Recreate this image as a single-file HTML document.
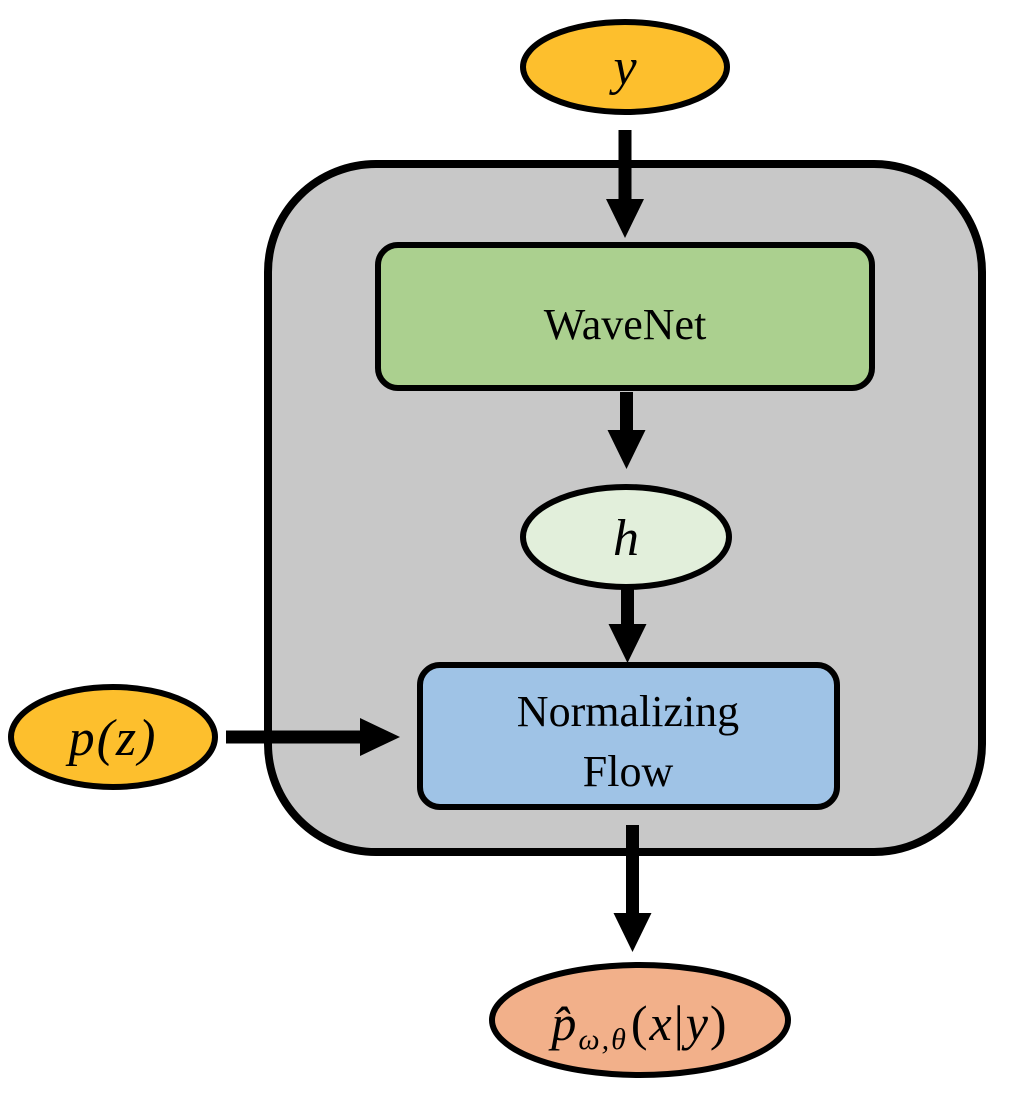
<!DOCTYPE html>
<html><head><meta charset="utf-8"><style>
html,body{margin:0;padding:0;background:#fff}
svg text{font-family:"Liberation Serif",serif}
</style></head><body>
<svg width="1016" height="1096" viewBox="0 0 1016 1096" xmlns="http://www.w3.org/2000/svg">
<defs>
<g id="ah"><polygon points="-19,0 19,0 0,39" fill="#000"/></g>
</defs>
<rect x="268" y="164" width="714" height="688" rx="108" fill="#c8c8c8" stroke="#000" stroke-width="8"/>
<ellipse cx="625" cy="67" rx="102" ry="45" fill="#fdbf2d" stroke="#000" stroke-width="6"/>
<text x="625" y="84" font-size="52" font-style="italic" text-anchor="middle">y</text>
<rect x="618.5" y="130" width="13" height="72" fill="#000"/>
<use href="#ah" x="625" y="199"/>
<rect x="378" y="245" width="494" height="143" rx="20" fill="#abd08f" stroke="#000" stroke-width="6"/>
<text x="625" y="339" font-size="44" text-anchor="middle">WaveNet</text>
<rect x="620" y="392" width="13" height="42" fill="#000"/>
<use href="#ah" x="626.5" y="430"/>
<ellipse cx="626" cy="537" rx="103" ry="50" fill="#e2efdb" stroke="#000" stroke-width="6"/>
<text x="626" y="555" font-size="52" font-style="italic" text-anchor="middle">h</text>
<rect x="621" y="588" width="13" height="40" fill="#000"/>
<use href="#ah" x="627.5" y="624"/>
<rect x="420" y="665" width="417" height="142" rx="20" fill="#9fc3e6" stroke="#000" stroke-width="6"/>
<text x="628" y="726" font-size="44" text-anchor="middle">Normalizing</text>
<text x="628" y="786" font-size="44" text-anchor="middle">Flow</text>
<ellipse cx="113" cy="737" rx="102" ry="50" fill="#fdbf2d" stroke="#000" stroke-width="6"/>
<text x="113" y="755" font-size="52" font-style="italic" text-anchor="middle" letter-spacing="2">p(z)</text>
<rect x="226" y="730.5" width="138" height="13" fill="#000"/>
<polygon points="360,718 400,737 360,756" fill="#000"/>
<rect x="626" y="825" width="13" height="92" fill="#000"/>
<use href="#ah" x="632.5" y="913"/>
<ellipse cx="640" cy="1020" rx="148" ry="55" fill="#f2b08a" stroke="#000" stroke-width="6"/>
<text x="640" y="1040" font-size="50" text-anchor="middle" letter-spacing="2"><tspan font-style="italic">p̂</tspan><tspan font-size="30" font-style="italic" dy="9">ω,θ</tspan><tspan dy="-9" dx="3">(</tspan><tspan font-style="italic">x</tspan>|<tspan font-style="italic">y</tspan>)</text>
</svg>
</body></html>
